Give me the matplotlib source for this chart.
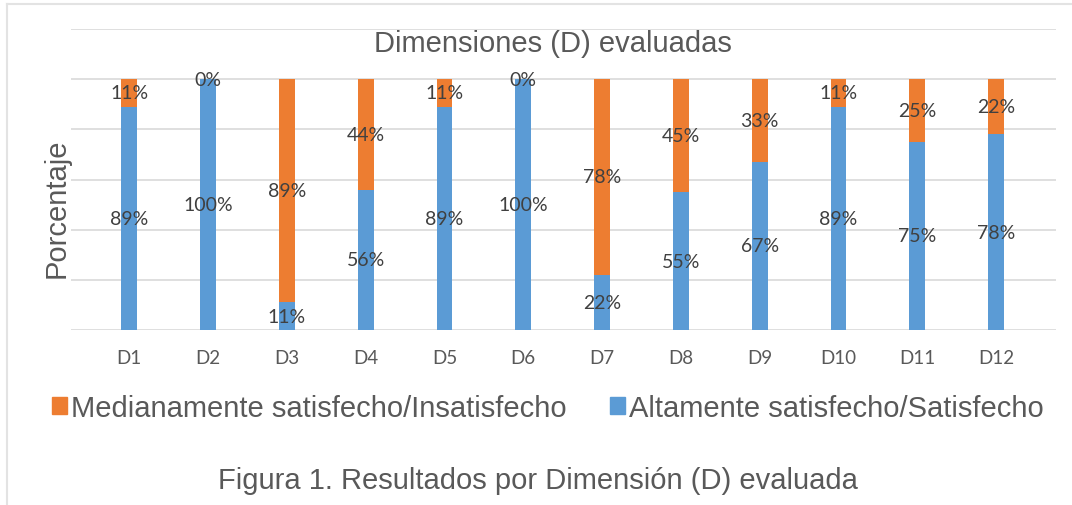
import matplotlib
matplotlib.use("Agg")
import matplotlib.pyplot as plt
from matplotlib.patches import Patch
import numpy as np

# data
dims = ["D1", "D2", "D3", "D4", "D5", "D6", "D7", "D8", "D9", "D10", "D11", "D12"]
altamente = [89, 100, 11, 56, 89, 100, 22, 55, 67, 89, 75, 78]
medianamente = [11, 0, 89, 44, 11, 0, 78, 45, 33, 11, 25, 22]

blue = "#5B9BD5"
orange = "#ED7D31"
gray = "#595959"
label_col = "#404040"

W, H = 1072, 506
fig = plt.figure(figsize=(W / 100, H / 100), dpi=100)
fig.patch.set_facecolor("white")

# plot area in pixel terms
left, right, top, bottom = 71, 1056, 30, 331
ax = fig.add_axes([left / W, 1 - bottom / H, (right - left) / W, (bottom - top) / H])

x = np.arange(len(dims))
bw = 0.2
ax.bar(x, altamente, bw, color=blue, zorder=3)
ax.bar(x, medianamente, bw, bottom=altamente, color=orange, zorder=3)

# centered data labels like excel
for i in range(len(dims)):
    a = altamente[i]
    m = medianamente[i]
    ax.text(x[i], a / 2, f"{a}%", ha="center", va="center", fontsize=14,
            color=label_col, family="Lato", zorder=4)
    ax.text(x[i], a + m / 2, f"{m}%", ha="center", va="center", fontsize=14,
            color=label_col, family="Lato", zorder=4)

ax.set_ylim(0, 120)
ax.set_yticks(np.arange(0, 121, 20))
ax.set_xlim(-0.74, 11.76)
ax.set_xticks(x)
ax.set_xticklabels(dims, fontsize=13.5, color=gray, family="Lato")
ax.tick_params(axis="x", length=0, pad=14)
ax.tick_params(axis="y", length=0, labelleft=False)
ax.grid(axis="y", color="#D9D9D9", linewidth=1.2, zorder=0)
for s in ax.spines.values():
    s.set_visible(False)

fig.text(553 / W, 1 - 44 / H, "Dimensiones (D) evaluadas", ha="center", va="center",
         fontsize=21, color=gray, family="Liberation Sans")
fig.text(57 / W, 1 - 208 / H, "Porcentaje", ha="center", va="center", rotation=90,
         fontsize=21, color=gray, family="Liberation Sans")

handles = [Patch(color=orange, label="Medianamente satisfecho/Insatisfecho"),
           Patch(color=blue, label="Altamente satisfecho/Satisfecho")]
fig.legend(handles=handles, loc="center", bbox_to_anchor=(548 / W, 1 - 409 / H), ncol=2,
           frameon=False, prop={"family": "Liberation Sans", "size": 21},
           labelcolor=gray, handlelength=0.5, handleheight=0.5, handletextpad=0.15,
           columnspacing=1.5)

fig.text(538 / W, 1 - 481 / H, "Figura 1. Resultados por Dimensión (D) evaluada",
         ha="center", va="center", fontsize=21, color=gray, family="Liberation Sans")

# thin frame lines (top and left) around the chart
fig.add_artist(plt.Line2D([7 / W, 1], [1 - 5 / H, 1 - 5 / H], color="#E3E3E3", linewidth=1.5,
                          transform=fig.transFigure))
fig.add_artist(plt.Line2D([7 / W, 7 / W], [0, 1 - 5 / H], color="#E3E3E3", linewidth=1.5,
                          transform=fig.transFigure))

fig.savefig("out.png", dpi=100)
